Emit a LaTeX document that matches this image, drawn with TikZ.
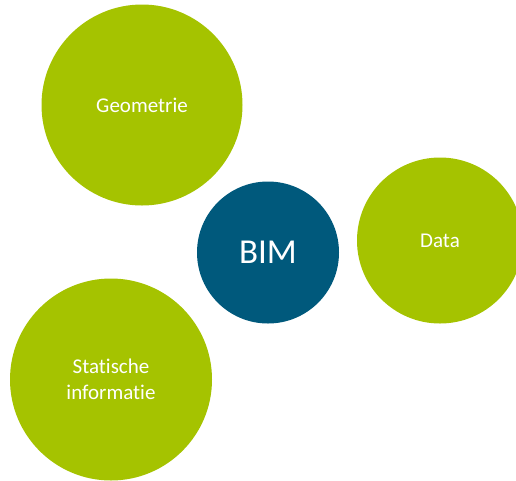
\documentclass[tikz,border=0pt]{standalone}
\usepackage{fontspec}
\setmainfont{Carlito}[Ligatures={NoCommon,NoDiscretionary,NoRare}]
\definecolor{bimgreen}{HTML}{A5C300}
\definecolor{bimblue}{HTML}{00597C}
\begin{document}
\begin{tikzpicture}[x=1pt,y=-1pt,
  bubble/.style={circle,inner sep=0pt,text=white,align=center,font=\fontsize{21}{26}\selectfont},
  greenbubble/.style={bubble,fill=bimgreen},
  bluebubble/.style={bubble,fill=bimblue,font=\fontsize{35}{40}\selectfont}]
\useasboundingbox (0,0) rectangle (516,480);
\clip (0,0) rectangle (516,480);
\node[greenbubble,minimum size=201pt] (geo) at (142,105) {Geometrie};
\node[greenbubble,minimum size=166pt] (data) at (440,240.5) {Data};
\node[bluebubble,minimum size=142pt] (bim) at (268,252.5) {BIM};
\node[greenbubble,minimum size=202pt] (stat) at (111,379.5) {Statische\\informatie};
\end{tikzpicture}
\end{document}
